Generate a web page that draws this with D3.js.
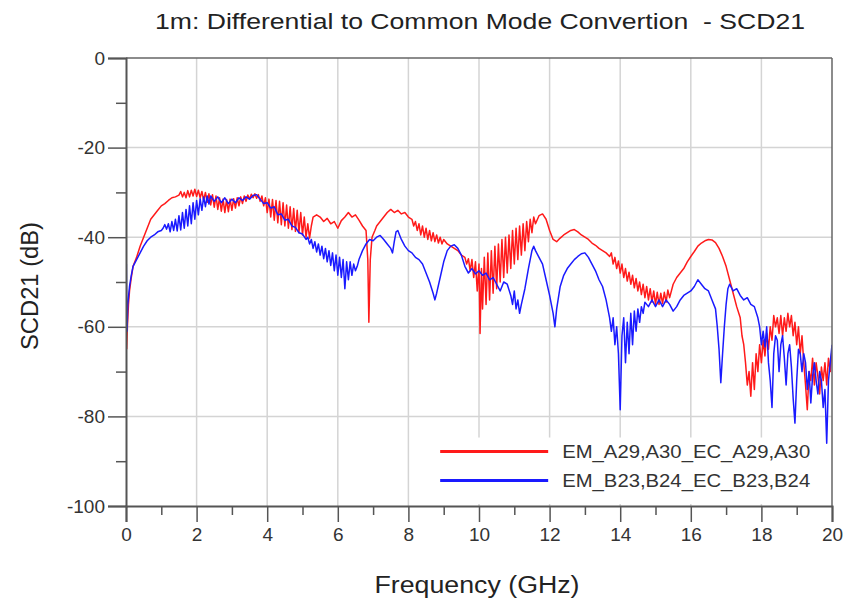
<!DOCTYPE html>
<html>
<head>
<meta charset="utf-8">
<script src="https://cdn.jsdelivr.net/npm/d3@7"></script>
<style>
  body { margin: 0; background: #fff; }
  svg { display: block; font-family: "Liberation Sans", Arial, sans-serif; }
</style>
</head>
<body>
<div id="chart"></div>
<script>
// Chart text
const titleText = "1m: Differential to Common Mode Convertion  - SCD21";
const xLabel = "Frequency (GHz)";
const yLabel = "SCD21 (dB)";
const seriesNames = ["EM_A29,A30_EC_A29,A30", "EM_B23,B24_EC_B23,B24"];
const seriesColors = ["#ff1a1a", "#1a1aff"];

// Tick values
const xMajorTicks = [0, 2, 4, 6, 8, 10, 12, 14, 16, 18, 20];
const xMinorTicks = [1, 3, 5, 7, 9, 11, 13, 15, 17, 19];
const yMajorTicks = [0, -20, -40, -60, -80, -100];
const yMinorTicks = [-10, -30, -50, -70, -90];

// Red series: [frequency GHz, dB]
const redSeries = [
  [0.02,-65],[0.04,-60],[0.07,-55],[0.1,-52],[0.15,-49],[0.2,-46.5],[0.3,-44.5],[0.4,-42],[0.5,-40],
  [0.6,-38],[0.7,-36],[0.8,-35],[0.9,-34],[1.0,-33],[1.1,-32.5],[1.2,-31.8],[1.3,-31.2],[1.4,-31],[1.5,-30.6],
  [1.55,-29.8],[1.6,-31],[1.65,-30],[1.7,-31.2],[1.75,-29.6],[1.8,-31],[1.85,-29.5],[1.9,-30.8],[1.95,-29.3],
  [2.0,-30.9],[2.05,-29.5],[2.1,-31.2],[2.15,-29.8],[2.2,-31.8],[2.25,-30],[2.3,-32.2],[2.35,-30.3],[2.4,-32.8],
  [2.45,-30.5],[2.5,-33.3],[2.55,-30.8],[2.6,-33.8],[2.65,-31.2],[2.7,-34.2],[2.75,-31.5],[2.8,-34.5],[2.85,-31.6],
  [2.9,-34.3],[2.95,-31.5],[3.0,-34],[3.05,-31.4],[3.1,-33.5],[3.15,-31.2],[3.2,-33],[3.25,-31],[3.3,-32.5],
  [3.35,-30.8],[3.4,-32],[3.45,-30.6],[3.5,-31.5],[3.55,-30.4],[3.6,-31.2],[3.65,-30.3],[3.7,-31.3],[3.75,-30.5],
  [3.8,-32],[3.85,-30.8],[3.9,-33],[3.95,-31.2],[4.0,-34.5],[4.05,-31.5],[4.1,-35.5],[4.15,-31.6],[4.2,-36.2],
  [4.25,-31.8],[4.3,-36.8],[4.35,-32],[4.4,-37.2],[4.45,-32.3],[4.5,-37.5],[4.55,-32.8],[4.6,-38],[4.65,-33.2],
  [4.7,-38.3],[4.75,-33.6],[4.8,-38.7],[4.85,-34],[4.9,-39],[4.95,-34.5],[5.0,-39.5],[5.05,-35.5],[5.1,-40],
  [5.15,-37],[5.2,-40.2],[5.25,-37.5],[5.3,-35.5],[5.4,-35],[5.5,-35.5],[5.6,-36.5],[5.7,-35.8],[5.8,-37],
  [5.9,-36.5],[6.0,-38],[6.1,-36.3],[6.2,-35.5],[6.3,-34.5],[6.4,-35.5],[6.5,-35],[6.6,-36.2],[6.7,-37.5],
  [6.8,-38.5],[6.85,-45],[6.88,-59],[6.92,-45],[6.97,-40],[7.05,-38.5],[7.1,-37.5],[7.2,-36.5],[7.3,-35.5],
  [7.4,-34.5],[7.5,-33.8],[7.6,-34.5],[7.7,-34],[7.8,-34.8],[7.9,-34.5],[8.0,-35.5],[8.1,-36],[8.15,-37.5],
  [8.2,-36.5],[8.25,-38.5],[8.3,-37],[8.35,-39.5],[8.4,-37.5],[8.45,-40],[8.5,-38],[8.55,-40.5],[8.6,-38.5],
  [8.65,-40.8],[8.7,-39],[8.75,-41],[8.8,-39.5],[8.85,-41.3],[8.9,-40],[8.95,-41.5],[9.0,-40.5],[9.1,-41.5],
  [9.2,-42],[9.3,-42.5],[9.4,-43],[9.5,-44],[9.6,-44.5],[9.65,-46],[9.7,-44.8],[9.75,-47.5],[9.8,-45],
  [9.85,-49],[9.9,-45.5],[9.95,-52],[10.0,-46],[10.03,-61.5],[10.07,-47],[10.1,-56],[10.15,-44.5],[10.2,-55],
  [10.25,-43.5],[10.3,-54],[10.35,-43],[10.4,-52.5],[10.45,-42],[10.5,-51.5],[10.55,-41.5],[10.6,-50],
  [10.65,-40.5],[10.7,-49],[10.75,-40],[10.8,-48],[10.85,-39.5],[10.9,-47],[10.95,-38.5],[11.0,-46],
  [11.05,-38],[11.1,-45],[11.15,-37.5],[11.2,-44],[11.25,-37],[11.3,-43],[11.35,-36.5],[11.4,-41],[11.45,-36],
  [11.5,-39],[11.55,-35.5],[11.6,-37],[11.7,-35.2],[11.8,-34.8],[11.9,-36],[12.0,-38.5],[12.1,-40.5],
  [12.2,-41],[12.3,-40.2],[12.4,-39.5],[12.5,-39],[12.6,-38.5],[12.7,-38.3],[12.8,-38.8],[12.9,-39.5],
  [13.0,-40],[13.1,-40.5],[13.2,-41.3],[13.3,-41.8],[13.4,-42.5],[13.5,-43],[13.6,-43.5],[13.7,-44.3],
  [13.75,-43.5],[13.8,-46],[13.85,-44.5],[13.9,-47],[13.95,-45.3],[14.0,-48],[14.05,-46],[14.1,-49],
  [14.15,-47],[14.2,-49.8],[14.25,-47.8],[14.3,-50.5],[14.35,-48.5],[14.4,-51.3],[14.45,-49.2],[14.5,-52],
  [14.55,-50],[14.6,-52.8],[14.65,-50.5],[14.7,-53.5],[14.75,-51],[14.8,-54],[14.85,-51.5],[14.9,-54.5],
  [14.95,-52],[15.0,-55],[15.05,-52.3],[15.1,-55],[15.15,-52.5],[15.2,-54.8],[15.25,-52.3],[15.3,-54.5],
  [15.35,-51.8],[15.4,-53.5],[15.5,-50.5],[15.6,-49],[15.7,-48],[15.8,-47],[15.9,-45.5],[16.0,-44.3],
  [16.1,-43.2],[16.2,-42],[16.3,-41.3],[16.4,-40.8],[16.5,-40.5],[16.6,-40.6],[16.7,-41.2],[16.8,-42.5],
  [16.9,-44.3],[17.0,-46.5],[17.1,-49.5],[17.2,-52.5],[17.3,-55.5],[17.4,-58],[17.45,-62],[17.5,-64],
  [17.55,-68],[17.6,-73],[17.65,-70],[17.7,-75.5],[17.75,-68],[17.8,-74],[17.85,-66],[17.9,-70],[17.95,-64],
  [18.0,-68],[18.05,-63],[18.1,-66.5],[18.15,-61.5],[18.2,-65],[18.25,-60],[18.3,-63],[18.35,-57.5],[18.4,-60],
  [18.45,-58],[18.5,-61.5],[18.55,-57.5],[18.6,-62],[18.65,-58],[18.7,-61],[18.75,-57],[18.8,-60],[18.85,-57.5],
  [18.9,-62],[18.95,-59],[19.0,-64],[19.05,-60],[19.1,-66],[19.15,-62],[19.2,-68],[19.25,-73],[19.3,-78.5],
  [19.35,-70],[19.4,-72],[19.45,-67],[19.5,-73],[19.55,-68],[19.6,-71],[19.65,-75],[19.7,-69],[19.75,-72],
  [19.8,-68],[19.85,-73],[19.9,-67],[19.95,-70],[20.0,-65]
];

// Blue series: [frequency GHz, dB]
const blueSeries = [
  [0.01,-46],[0.02,-58],[0.03,-61],[0.05,-55],[0.1,-51],[0.15,-48.5],[0.2,-46.5],[0.3,-45],[0.4,-43.5],
  [0.5,-42],[0.6,-40.8],[0.7,-40],[0.8,-39.5],[0.9,-38.8],[1.0,-38.5],[1.05,-38],[1.1,-37.2],[1.15,-38.2],
  [1.2,-37],[1.25,-38.8],[1.3,-36.5],[1.35,-38.5],[1.4,-36],[1.45,-38.6],[1.5,-35.2],[1.55,-38.4],[1.6,-34.5],
  [1.65,-38],[1.7,-33.8],[1.75,-37.5],[1.8,-33],[1.85,-37],[1.9,-32.3],[1.95,-36],[2.0,-31.8],[2.05,-35],
  [2.1,-31.4],[2.15,-34],[2.2,-31],[2.25,-33.2],[2.3,-30.8],[2.35,-32.6],[2.4,-30.8],[2.5,-32],[2.6,-31],
  [2.7,-32.3],[2.8,-31.2],[2.9,-32.5],[3.0,-31.5],[3.1,-32.3],[3.2,-31.2],[3.3,-31.8],[3.4,-31],[3.5,-31.5],
  [3.6,-30.7],[3.7,-30.5],[3.8,-31.5],[3.9,-32.5],[4.0,-32.3],[4.1,-33.5],[4.2,-33.2],[4.3,-35],[4.4,-34.8],
  [4.5,-36.2],[4.6,-36],[4.7,-37.5],[4.8,-37.8],[4.9,-39],[5.0,-39.3],[5.1,-40.5],[5.15,-40],[5.2,-41.5],
  [5.25,-40.5],[5.3,-42.5],[5.35,-41],[5.4,-43.3],[5.45,-41.5],[5.5,-44],[5.55,-42],[5.6,-44.8],[5.65,-42.5],
  [5.7,-45.5],[5.75,-43],[5.8,-46.3],[5.85,-43.5],[5.9,-47.5],[5.95,-44],[6.0,-48.5],[6.05,-44.5],[6.1,-49],
  [6.15,-45],[6.2,-51.5],[6.25,-45.5],[6.3,-49.5],[6.35,-45.5],[6.4,-48.5],[6.45,-46],[6.5,-47.5],[6.55,-46.5],
  [6.6,-45],[6.7,-43],[6.8,-41.5],[6.9,-40.5],[7.0,-40.8],[7.1,-40],[7.2,-39.6],[7.3,-40.5],[7.4,-41.5],
  [7.5,-42.5],[7.55,-43.5],[7.6,-41],[7.65,-38.8],[7.7,-38.5],[7.75,-39.5],[7.8,-40.5],[7.9,-42],[8.0,-43],
  [8.1,-43.5],[8.2,-44.5],[8.3,-45],[8.4,-46],[8.5,-48],[8.6,-50],[8.7,-52.5],[8.75,-54],[8.8,-52.5],
  [8.9,-49],[9.0,-45.5],[9.1,-43],[9.2,-42],[9.3,-41.7],[9.4,-42.5],[9.5,-44],[9.6,-46.5],[9.7,-48],
  [9.8,-47],[9.9,-48.2],[10.0,-47.5],[10.1,-48.5],[10.2,-48],[10.3,-49.5],[10.4,-49],[10.5,-50.5],[10.6,-52],
  [10.7,-50],[10.8,-50.5],[10.9,-53],[10.95,-55],[11.0,-52],[11.05,-56],[11.1,-54],[11.15,-57],[11.2,-55],
  [11.3,-51.5],[11.4,-47],[11.5,-43],[11.55,-42],[11.6,-43],[11.7,-44.5],[11.8,-46],[11.9,-49.5],[12.0,-53],
  [12.1,-57],[12.15,-60],[12.2,-56],[12.3,-51],[12.4,-48.5],[12.5,-47],[12.6,-46],[12.7,-45],[12.8,-44.3],
  [12.9,-43.7],[13.0,-43.5],[13.1,-44.5],[13.2,-46],[13.3,-47.5],[13.4,-49.5],[13.5,-51],[13.6,-54],
  [13.65,-56],[13.7,-58],[13.75,-61],[13.8,-58],[13.85,-64],[13.9,-60],[13.95,-66],[14.0,-78.5],[14.05,-62],
  [14.1,-58],[14.15,-68],[14.2,-59],[14.25,-66],[14.3,-57],[14.35,-64],[14.4,-56.5],[14.45,-61],[14.5,-56],
  [14.55,-59],[14.6,-55.5],[14.65,-57],[14.7,-54.5],[14.8,-55.5],[14.9,-54],[15.0,-55.5],[15.1,-54],
  [15.2,-55.5],[15.3,-54],[15.4,-55],[15.5,-56.5],[15.6,-55.5],[15.7,-54],[15.8,-53],[15.9,-52.5],[16.0,-52],
  [16.1,-51],[16.2,-49.5],[16.3,-50.5],[16.4,-51.5],[16.5,-52],[16.6,-54],[16.7,-56],[16.75,-60],[16.8,-65],
  [16.85,-72.5],[16.9,-66],[16.95,-60],[17.0,-55],[17.05,-51.5],[17.1,-50.5],[17.2,-52],[17.3,-51.5],
  [17.4,-53],[17.5,-54],[17.6,-53.5],[17.7,-55],[17.8,-55.5],[17.9,-58],[17.95,-60],[18.0,-64],[18.05,-61],
  [18.1,-64.5],[18.15,-60],[18.2,-68],[18.25,-72],[18.3,-78],[18.35,-66],[18.4,-62],[18.45,-63],[18.5,-70],
  [18.55,-64],[18.6,-62],[18.65,-67],[18.7,-73],[18.75,-66],[18.8,-64],[18.85,-69],[18.9,-76],[18.95,-81.5],
  [19.0,-72],[19.05,-65],[19.1,-66],[19.15,-70],[19.2,-66],[19.25,-68],[19.3,-74],[19.35,-70],[19.4,-77],
  [19.45,-71],[19.5,-68],[19.55,-72],[19.6,-75],[19.65,-70],[19.7,-72],[19.75,-78],[19.8,-74],[19.85,-86],
  [19.9,-72],[19.95,-68],[20.0,-64]
];

const width = 847, height = 604;
const margin = { top: 58, right: 15, bottom: 98, left: 126 };
const innerW = width - margin.left - margin.right;
const innerH = height - margin.top - margin.bottom;

const svg = d3.select("#chart").append("svg")
    .attr("width", width)
    .attr("height", height);

const x = d3.scaleLinear().domain([0, 20]).range([0, innerW]);
const y = d3.scaleLinear().domain([-100, 0]).range([innerH, 0]);

const g = svg.append("g").attr("transform", `translate(${margin.left},${margin.top})`);

// Grid lines at the major ticks
g.append("g").selectAll("line")
    .data(xMajorTicks.slice(1, -1))
    .join("line")
    .attr("x1", d => x(d)).attr("x2", d => x(d))
    .attr("y1", 0).attr("y2", innerH)
    .attr("stroke", "#d4d4d4").attr("stroke-width", 1.5);

g.append("g").selectAll("line")
    .data(yMajorTicks.slice(1, -1))
    .join("line")
    .attr("x1", 0).attr("x2", innerW)
    .attr("y1", d => y(d)).attr("y2", d => y(d))
    .attr("stroke", "#d4d4d4").attr("stroke-width", 1.5);

// Data lines
const line = d3.line().x(d => x(d[0])).y(d => y(d[1]));

g.append("clipPath").attr("id", "plot-clip")
    .append("rect").attr("width", innerW).attr("height", innerH);

[redSeries, blueSeries].forEach((s, i) => {
    g.append("path")
        .datum(s)
        .attr("clip-path", "url(#plot-clip)")
        .attr("fill", "none")
        .attr("stroke", seriesColors[i])
        .attr("stroke-width", 1.5)
        .attr("stroke-linejoin", "round")
        .attr("d", line);
});

// Frame: top and right border
g.append("line").attr("x1", 0).attr("x2", innerW).attr("y1", 0).attr("y2", 0)
    .attr("stroke", "#666").attr("stroke-width", 1.5);
g.append("line").attr("x1", innerW).attr("x2", innerW).attr("y1", 0).attr("y2", innerH)
    .attr("stroke", "#666").attr("stroke-width", 1.5);

// Y axis (major with labels, minor without); plain hyphen for negatives
const plain = d => String(d);
g.append("g")
    .call(d3.axisLeft(y).tickValues(yMajorTicks).tickSize(18).tickPadding(3).tickFormat(plain));
g.append("g")
    .call(d3.axisLeft(y).tickValues(yMinorTicks).tickSize(10).tickFormat(""))
    .select(".domain").remove();

// X axis
g.append("g")
    .attr("transform", `translate(0,${innerH})`)
    .call(d3.axisBottom(x).tickValues(xMajorTicks).tickSize(16).tickPadding(6).tickFormat(plain));
g.append("g")
    .attr("transform", `translate(0,${innerH})`)
    .call(d3.axisBottom(x).tickValues(xMinorTicks).tickSize(9).tickFormat(""))
    .select(".domain").remove();

g.selectAll(".domain").attr("stroke", "#555").attr("stroke-width", 2);
g.selectAll(".tick line").attr("stroke", "#555").attr("stroke-width", 1.5);
g.selectAll(".tick text")
    .attr("font-family", "Liberation Sans, Arial, sans-serif")
    .attr("font-size", 19)
    .attr("fill", "#333");

// Legend, drawn over the data
const legend = g.append("g").attr("transform", `translate(${x(8.9)},${y(-86.5)})`);
legend.append("rect")
    .attr("x", -4).attr("y", -8)
    .attr("width", x(19.8) - x(8.9)).attr("height", y(-100) - y(-86.5) + 6)
    .attr("fill", "#fff");
seriesNames.forEach((name, i) => {
    const row = legend.append("g").attr("transform", `translate(0,${6 + i * 29})`);
    row.append("line")
        .attr("x1", 0).attr("x2", 108)
        .attr("stroke", seriesColors[i]).attr("stroke-width", 3);
    row.append("text")
        .attr("x", 122).attr("dy", "0.35em")
        .attr("font-size", 18)
        .attr("textLength", 248).attr("lengthAdjust", "spacingAndGlyphs")
        .attr("fill", "#333")
        .text(name);
});

// Titles
svg.append("text")
    .attr("x", 480).attr("y", 29)
    .attr("text-anchor", "middle")
    .attr("font-size", 22)
    .attr("textLength", 650).attr("lengthAdjust", "spacingAndGlyphs")
    .attr("fill", "#222")
    .style("white-space", "pre")
    .text(titleText);

svg.append("text")
    .attr("x", margin.left + innerW / 2 - 2).attr("y", 593)
    .attr("text-anchor", "middle")
    .attr("font-size", 23)
    .attr("textLength", 205).attr("lengthAdjust", "spacingAndGlyphs")
    .attr("fill", "#222")
    .text(xLabel);

svg.append("text")
    .attr("transform", `translate(38,${margin.top + innerH / 2 + 4}) rotate(-90)`)
    .attr("text-anchor", "middle")
    .attr("font-size", 23)
    .attr("textLength", 128).attr("lengthAdjust", "spacingAndGlyphs")
    .attr("fill", "#222")
    .text(yLabel);
</script>
</body>
</html>
